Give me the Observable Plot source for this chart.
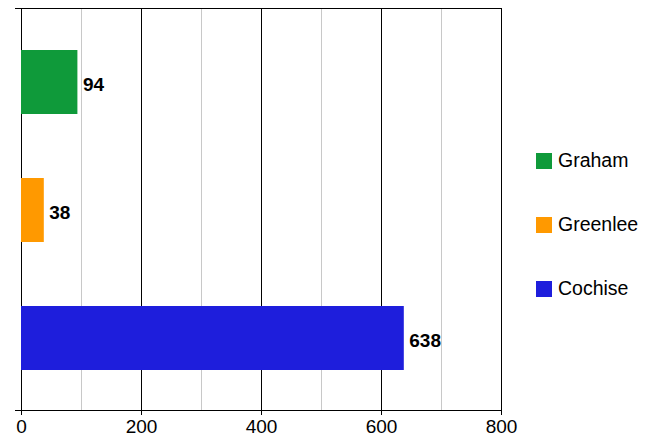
<!DOCTYPE html>
<html><head><meta charset="utf-8">
<script src="https://cdn.jsdelivr.net/npm/d3@7"></script>
<script src="https://cdn.jsdelivr.net/npm/@observablehq/plot@0.6"></script>
<style>
body{margin:0;background:#fff;font-family:"Liberation Sans",Arial,sans-serif;}
#wrap{position:relative;width:672px;height:437px;overflow:hidden;background:#fff;}
#legend{position:absolute;left:536px;top:0;}
.item{position:absolute;left:0;display:flex;align-items:center;white-space:nowrap;font-size:19.5px;color:#000;height:16px;}
.sw{width:16px;height:16px;margin-right:6px;flex:none;}
</style></head><body><div id="wrap"></div>
<script>
// Data
const counties = ["Graham", "Greenlee", "Cochise"];
const values = [94, 38, 638];
const colors = ["#0f9a3a", "#ff9900", "#1e1edc"];
const xTicks = [0, 200, 400, 600, 800];
const majorGrid = [200, 400, 600];
const minorGrid = [100, 300, 500, 700];

const data = counties.map((c, i) => ({county: c, value: values[i]}));

const W = 672, H = 437, mL = 21, mR = 171, mT = 8, mB = 27;
const innerH = H - mT - mB;

const chart = Plot.plot({
  width: W, height: H,
  marginLeft: mL, marginRight: mR, marginTop: mT, marginBottom: mB,
  style: {fontFamily: '"Liberation Sans", Arial, sans-serif', fontSize: "19px", color: "#000", background: "#fff", overflow: "visible"},
  x: {domain: [0, 800]},
  y: {domain: counties, range: [17.5, 401.5], paddingInner: 0.5, paddingOuter: 0.25, axis: null},
  color: {domain: counties, range: colors},
  marks: [
    Plot.ruleX(minorGrid, {stroke: "#c8c8c8", strokeOpacity: 1}),
    Plot.ruleX(majorGrid, {stroke: "#000", strokeOpacity: 1}),
    Plot.frame({stroke: "#000", strokeOpacity: 1}),
    Plot.ruleY([0], {y: null, x1: -10, x2: 0, stroke: "#000", dy: -innerH / 2}),
    Plot.ruleY([0], {y: null, x1: -10, x2: 0, stroke: "#000", dy: innerH / 2}),
    Plot.barX(data, {x: "value", y: "county", fill: "county"}),
    Plot.text(data, {x: "value", y: "county", text: d => String(d.value), textAnchor: "start", dx: 5, dy: 2, fontWeight: "bold", fontSize: 19, fill: "#000"}),
    Plot.axisX({ticks: xTicks, tickSize: 5, tickPadding: 4, stroke: "#000", fontSize: 19, label: null, tickFormat: d => String(d)})
  ]
});

const wrap = document.getElementById("wrap");
wrap.appendChild(chart);

const legend = document.createElement("div");
legend.id = "legend";
const legendTops = [152.5, 216.5, 280.5];
counties.forEach((c, i) => {
  const item = document.createElement("div");
  item.className = "item";
  item.style.top = legendTops[i] + "px";
  const sw = document.createElement("span");
  sw.className = "sw";
  sw.style.background = colors[i];
  const t = document.createElement("span");
  t.textContent = c;
  item.appendChild(sw);
  item.appendChild(t);
  legend.appendChild(item);
});
wrap.appendChild(legend);
</script>
</body></html>
